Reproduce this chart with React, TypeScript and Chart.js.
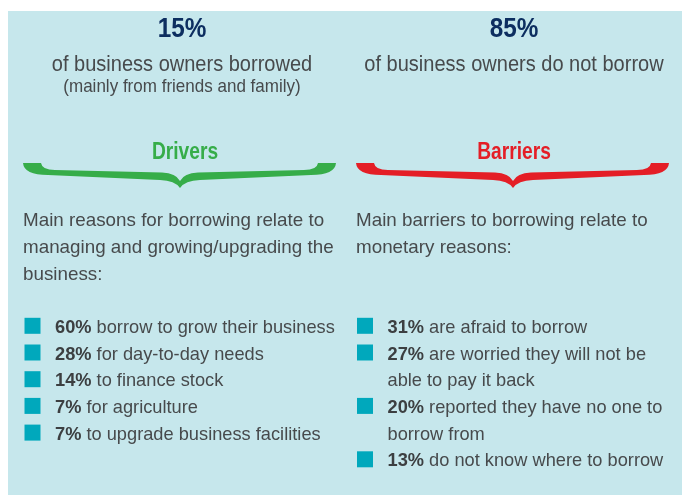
import { useEffect, useRef } from "react";
import { Chart, registerables } from "chart.js";
Chart.register(...registerables);

// ---- data ----
const headlinePct = [15, 85];
const headlineText = ["of business owners borrowed", "of business owners do not borrow"];
const headlineNote = ["(mainly from friends and family)", ""];
const groupTitles = ["Drivers", "Barriers"];
const introLines = [
  ["Main reasons for borrowing relate to", "managing and growing/upgrading the", "business:"],
  ["Main barriers to borrowing relate to", "monetary reasons:"],
];
const driverPct = [60, 28, 14, 7, 7];
const driverText = [
  ["borrow to grow their business"],
  ["for day-to-day needs"],
  ["to finance stock"],
  ["for agriculture"],
  ["to upgrade business facilities"],
];
const barrierPct = [31, 27, 20, 13];
const barrierText = [
  ["are afraid to borrow"],
  ["are worried they will not be", "able to pay it back"],
  ["reported they have no one to", "borrow from"],
  ["do not know where to borrow"],
];

// ---- layout / style ----
const W = 682;
const H = 495;
const FONT = "'Liberation Sans', Arial, sans-serif";
const BG = "#c6e7ec";
const NAVY = "#0d2e60";
const GREY = "#474a4c";
const DARK = "#3c3f41";
const TEAL = "#00a8bc";
const GREEN = "#36ad49";
const RED = "#e41e26";
const COLS = [
  { center: 182, braceX0: 23, braceX1: 336, braceC: 180, titleC: 185, textX: 23, bulletX: 32.5, itemX: 55 },
  { center: 514, braceX0: 356, braceX1: 669, braceC: 513, titleC: 514, textX: 356, bulletX: 365, itemX: 387.5 },
];
const ROW0 = 325.8;
const ROW_STEP = 26.7;
const SQUARE = 16;

function linesOf(items: string[][]) {
  const rows: { first: boolean; idx: number; line: number }[] = [];
  let line = 0;
  items.forEach((it, idx) => {
    it.forEach((_, j) => {
      rows.push({ first: j === 0, idx, line });
      line++;
    });
  });
  return rows;
}

const driverRows = linesOf(driverText);
const barrierRows = linesOf(barrierText);

function txt(ctx: any, s: string, x: number, y: number, font: string, color: string, align: string, sx: number) {
  ctx.font = font;
  ctx.fillStyle = color;
  ctx.textAlign = "left";
  ctx.textBaseline = "alphabetic";
  const w = ctx.measureText(s).width * sx;
  const left = align === "center" ? x - w / 2 : x;
  ctx.save();
  ctx.translate(left, y);
  ctx.scale(sx, 1);
  ctx.fillText(s, 0, 0);
  ctx.restore();
  return w;
}

const infoPlugin = {
  id: "info",
  beforeDraw(chart: any) {
    const { ctx, scales } = chart;
    const x = scales.x, y = scales.y;
    ctx.save();
    ctx.fillStyle = "#ffffff";
    ctx.fillRect(0, 0, W, H);
    ctx.fillStyle = BG;
    const x0 = x.getPixelForValue(8), y0 = y.getPixelForValue(11);
    ctx.fillRect(x0, y0, x.getPixelForValue(W) - x0, y.getPixelForValue(H) - y0);
    ctx.restore();
  },
  afterDatasetsDraw(chart: any) {
    const { ctx, scales } = chart;
    const px = (v: number) => scales.x.getPixelForValue(v);
    const py = (v: number) => scales.y.getPixelForValue(v);
    ctx.save();

    COLS.forEach((c, i) => {
      txt(ctx, `${headlinePct[i]}%`, px(c.center), py(37), `bold 27px ${FONT}`, NAVY, "center", 0.9);
      txt(ctx, headlineText[i], px(c.center), py(71), `22px ${FONT}`, GREY, "center", 0.91);
      if (headlineNote[i]) {
        txt(ctx, headlineNote[i], px(c.center), py(92), `18.5px ${FONT}`, GREY, "center", 0.92);
      }
      const col = i === 0 ? GREEN : RED;
      txt(ctx, groupTitles[i], px(c.titleC), py(159), `bold 24px ${FONT}`, col, "center", 0.8);
      drawBrace(ctx, px, py, c.braceX0, c.braceX1, c.braceC, col);
      introLines[i].forEach((l, k) => txt(ctx, l, px(c.textX), py(226.3 + 27 * k), `19px ${FONT}`, GREY, "left", 0.99));
      const pcts = i === 0 ? driverPct : barrierPct;
      const texts = i === 0 ? driverText : barrierText;
      const rows = i === 0 ? driverRows : barrierRows;
      rows.forEach((r) => {
        const base = py(ROW0 + ROW_STEP * r.line + 7);
        let xx = px(c.itemX);
        const s = texts[r.idx][r.first ? 0 : 1];
        if (r.first) {
          xx += txt(ctx, `${pcts[r.idx]}% `, xx, base, `bold 19px ${FONT}`, DARK, "left", 0.96);
        }
        txt(ctx, s, xx, base, `19px ${FONT}`, GREY, "left", 0.96);
      });
    });
    ctx.restore();
  },
};

function drawBrace(ctx: any, px: any, py: any, x0: number, x1: number, cx: number, color: string) {
  const top = 163, bandTopEnd = 170, bandTopMid = 172.5, tipTop = 181, bandBotEnd = 175, bandBotMid = 180, tipBot = 188;
  ctx.beginPath();
  ctx.moveTo(px(x0), py(top));
  ctx.lineTo(px(x0 + 18), py(top));
  ctx.quadraticCurveTo(px(x0 + 19), py(bandTopEnd), px(x0 + 32), py(bandTopEnd));
  ctx.lineTo(px(cx - 18), py(bandTopMid));
  ctx.quadraticCurveTo(px(cx - 4), py(bandTopMid + 0.5), px(cx), py(tipTop));
  ctx.quadraticCurveTo(px(cx + 4), py(bandTopMid + 0.5), px(cx + 18), py(bandTopMid));
  ctx.lineTo(px(x1 - 32), py(bandTopEnd));
  ctx.quadraticCurveTo(px(x1 - 19), py(bandTopEnd), px(x1 - 18), py(top));
  ctx.lineTo(px(x1), py(top));
  ctx.quadraticCurveTo(px(x1 - 1), py(bandBotEnd), px(x1 - 25), py(bandBotEnd));
  ctx.lineTo(px(cx + 20), py(bandBotMid));
  ctx.quadraticCurveTo(px(cx + 5), py(bandBotMid + 0.5), px(cx), py(tipBot));
  ctx.quadraticCurveTo(px(cx - 5), py(bandBotMid + 0.5), px(cx - 20), py(bandBotMid));
  ctx.lineTo(px(x0 + 25), py(bandBotEnd));
  ctx.quadraticCurveTo(px(x0 + 1), py(bandBotEnd), px(x0), py(top));
  ctx.closePath();
  ctx.fillStyle = color;
  ctx.fill();
}

export default function App() {
  const ref = useRef<HTMLCanvasElement>(null);
  useEffect(() => {
    const radius = SQUARE / 2 / Math.SQRT1_2;
    const mk = (rows: typeof driverRows, bx: number, label: string) => ({
      label,
      data: rows.filter((r) => r.first).map((r) => ({ x: bx, y: ROW0 + ROW_STEP * r.line })),
      pointStyle: "rect" as const,
      pointRadius: radius,
      pointHoverRadius: radius,
      backgroundColor: TEAL,
      borderWidth: 0,
    });
    const chart = new Chart(ref.current!, {
      type: "scatter",
      data: {
        datasets: [mk(driverRows, COLS[0].bulletX, "Drivers"), mk(barrierRows, COLS[1].bulletX, "Barriers")],
      },
      options: {
        responsive: false,
        animation: false,
        events: [],
        layout: { padding: 0, autoPadding: false },
        scales: {
          x: { type: "linear", min: 0, max: W, display: false },
          y: { type: "linear", min: 0, max: H, reverse: true, display: false },
        },
        plugins: { legend: { display: false }, tooltip: { enabled: false } },
      },
      plugins: [infoPlugin],
    });
    return () => chart.destroy();
  }, []);
  return (
    <div style={{ position: "absolute", left: 0, top: 0, width: W, height: H }}>
      <canvas ref={ref} width={W} height={H} style={{ display: "block" }} />
    </div>
  );
}
